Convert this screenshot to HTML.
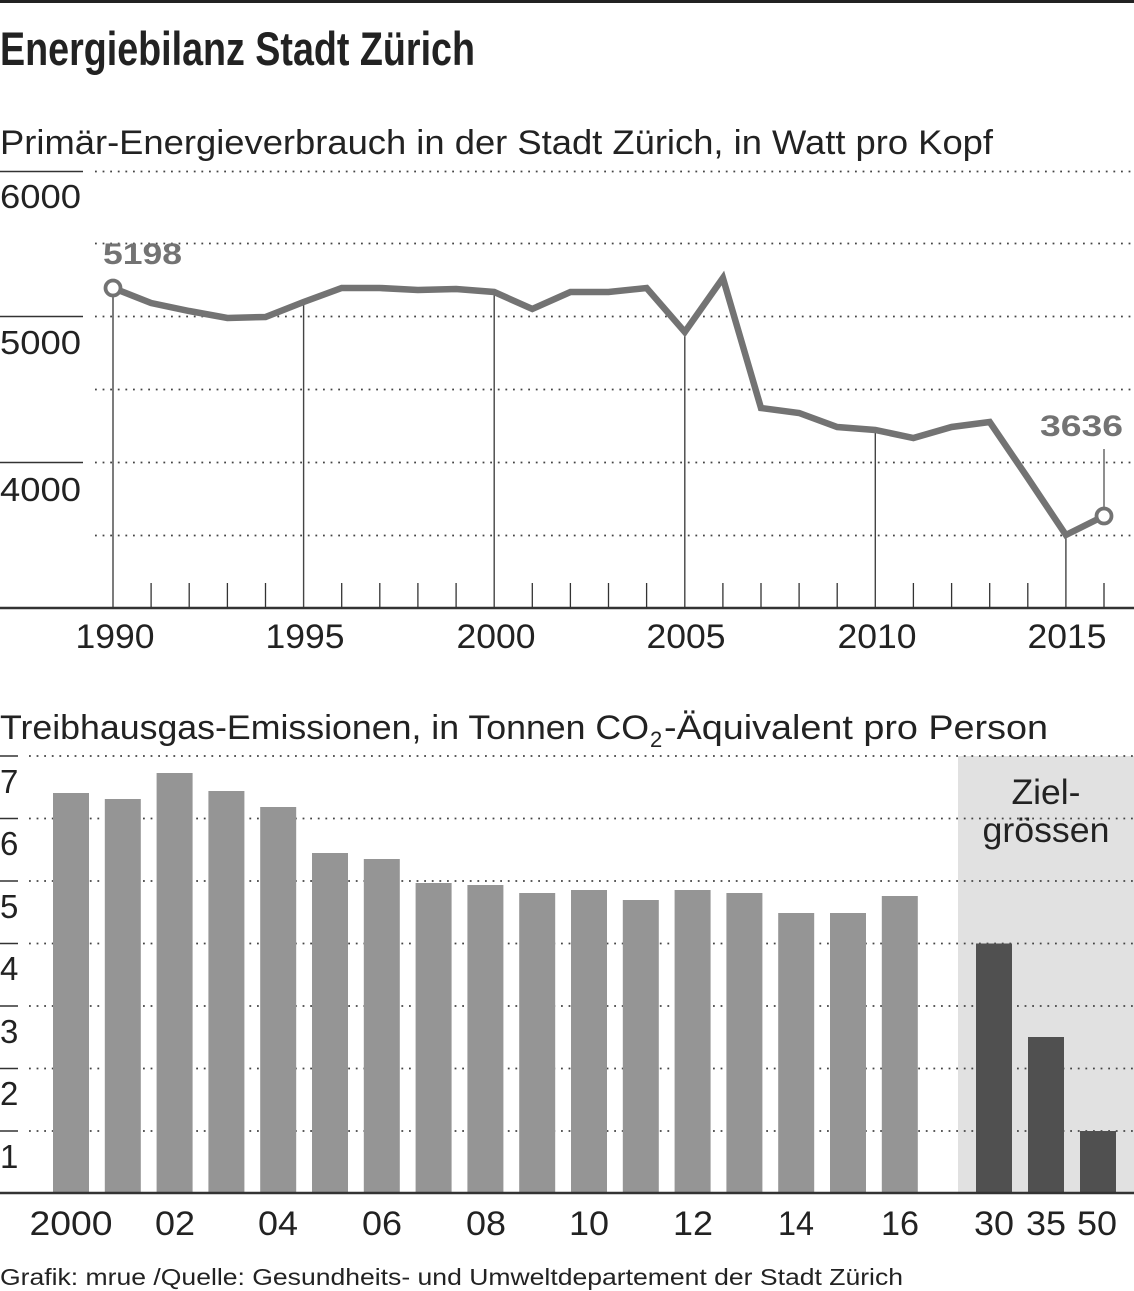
<!DOCTYPE html>
<html>
<head>
<meta charset="utf-8">
<style>
html,body{margin:0;padding:0;background:#fff;}
svg{display:block;}
text{font-family:"Liberation Sans",sans-serif;}
</style>
</head>
<body>
<svg width="1134" height="1291" viewBox="0 0 1134 1291" xmlns="http://www.w3.org/2000/svg">
<rect x="0" y="0" width="1134" height="1291" fill="#fff"/>
<rect x="0" y="0" width="1134" height="3" fill="#222"/>
<text x="0" y="65" font-size="47" font-weight="bold" fill="#222" textLength="475" lengthAdjust="spacingAndGlyphs" style="font-family:'Liberation Sans Narrow','Liberation Sans',sans-serif">Energiebilanz Stadt Zürich</text>

<text x="0" y="154" font-size="34" fill="#222" textLength="993" lengthAdjust="spacingAndGlyphs">Primär-Energieverbrauch in der Stadt Zürich, in Watt pro Kopf</text>

<g stroke="#444" stroke-width="1.8" stroke-dasharray="1.8 5.8" fill="none">
<line x1="95" y1="171.5" x2="1134" y2="171.5"/>
<line x1="95" y1="243.5" x2="1134" y2="243.5"/>
<line x1="95" y1="316.5" x2="1134" y2="316.5"/>
<line x1="95" y1="389.5" x2="1134" y2="389.5"/>
<line x1="95" y1="462.5" x2="1134" y2="462.5"/>
<line x1="95" y1="535.5" x2="1134" y2="535.5"/>
</g>
<g stroke="#333" stroke-width="1.5">
<line x1="0" y1="171.5" x2="83" y2="171.5"/>
<line x1="0" y1="316.5" x2="83" y2="316.5"/>
<line x1="0" y1="462.5" x2="83" y2="462.5"/>
</g>
<g font-size="33" fill="#222">
<text x="0" y="208" textLength="81" lengthAdjust="spacingAndGlyphs">6000</text>
<text x="0" y="354" textLength="81" lengthAdjust="spacingAndGlyphs">5000</text>
<text x="0" y="501" textLength="81" lengthAdjust="spacingAndGlyphs">4000</text>
</g>

<g stroke="#333" stroke-width="1.3">
<line x1="151.1" y1="583" x2="151.1" y2="608"/>
<line x1="189.2" y1="583" x2="189.2" y2="608"/>
<line x1="227.4" y1="583" x2="227.4" y2="608"/>
<line x1="265.5" y1="583" x2="265.5" y2="608"/>
<line x1="341.7" y1="583" x2="341.7" y2="608"/>
<line x1="379.8" y1="583" x2="379.8" y2="608"/>
<line x1="417.9" y1="583" x2="417.9" y2="608"/>
<line x1="456.1" y1="583" x2="456.1" y2="608"/>
<line x1="532.3" y1="583" x2="532.3" y2="608"/>
<line x1="570.4" y1="583" x2="570.4" y2="608"/>
<line x1="608.5" y1="583" x2="608.5" y2="608"/>
<line x1="646.6" y1="583" x2="646.6" y2="608"/>
<line x1="722.9" y1="583" x2="722.9" y2="608"/>
<line x1="761.0" y1="583" x2="761.0" y2="608"/>
<line x1="799.1" y1="583" x2="799.1" y2="608"/>
<line x1="837.2" y1="583" x2="837.2" y2="608"/>
<line x1="913.4" y1="583" x2="913.4" y2="608"/>
<line x1="951.6" y1="583" x2="951.6" y2="608"/>
<line x1="989.7" y1="583" x2="989.7" y2="608"/>
<line x1="1027.8" y1="583" x2="1027.8" y2="608"/>
<line x1="1104.0" y1="583" x2="1104.0" y2="608"/>
</g>
<g stroke="#444" stroke-width="1.4">
<line x1="113" y1="292" x2="113" y2="608"/>
<line x1="303.6" y1="302" x2="303.6" y2="608"/>
<line x1="494.2" y1="292" x2="494.2" y2="608"/>
<line x1="684.8" y1="332" x2="684.8" y2="608"/>
<line x1="875.3" y1="430" x2="875.3" y2="608"/>
<line x1="1065.9" y1="535" x2="1065.9" y2="608"/>
</g>
<line x1="0" y1="608" x2="1134" y2="608" stroke="#333" stroke-width="2.5"/>

<line x1="1104" y1="449" x2="1104" y2="509" stroke="#737373" stroke-width="1.6"/>

<polyline fill="none" stroke="#737373" stroke-width="6.5" stroke-linejoin="miter" stroke-miterlimit="4"
points="113,288 151.1,303 189.2,311 227.4,318 265.5,317 303.6,302 341.7,288 379.8,288 417.9,290 456.1,289 494.2,292 532.3,309 570.4,292 608.5,292 646.6,288 684.8,332 722.9,278 761.0,408 799.1,413 837.2,427 875.3,430 913.4,438 951.6,427 989.7,422 1027.8,478 1065.9,535 1104,516"/>
<circle cx="113" cy="288" r="7.5" fill="#fff" stroke="#737373" stroke-width="3.8"/>
<circle cx="1104" cy="516" r="7.5" fill="#fff" stroke="#737373" stroke-width="3.8"/>

<text x="103" y="264" font-size="30" font-weight="bold" fill="#737373" textLength="79" lengthAdjust="spacingAndGlyphs">5198</text>
<text x="1040" y="436" font-size="30" font-weight="bold" fill="#737373" textLength="83" lengthAdjust="spacingAndGlyphs">3636</text>

<g font-size="34" fill="#222" text-anchor="middle">
<text x="115" y="648" textLength="79" lengthAdjust="spacingAndGlyphs">1990</text>
<text x="305" y="648" textLength="79" lengthAdjust="spacingAndGlyphs">1995</text>
<text x="496" y="648" textLength="79" lengthAdjust="spacingAndGlyphs">2000</text>
<text x="686" y="648" textLength="79" lengthAdjust="spacingAndGlyphs">2005</text>
<text x="877" y="648" textLength="79" lengthAdjust="spacingAndGlyphs">2010</text>
<text x="1067" y="648" textLength="79" lengthAdjust="spacingAndGlyphs">2015</text>
</g>

<text x="0" y="739" font-size="34" fill="#222" textLength="649" lengthAdjust="spacingAndGlyphs">Treibhausgas-Emissionen, in Tonnen CO</text>
<text x="650" y="747" font-size="22" fill="#222">2</text>
<text x="664" y="739" font-size="34" fill="#222" textLength="384" lengthAdjust="spacingAndGlyphs">-Äquivalent pro Person</text>

<rect x="958" y="756" width="176" height="437" fill="#e1e1e1"/>

<g stroke="#444" stroke-width="1.8" stroke-dasharray="1.8 5.8" fill="none">
<line x1="29" y1="756" x2="1134" y2="756"/>
<line x1="29" y1="818.5" x2="1134" y2="818.5"/>
<line x1="29" y1="881" x2="1134" y2="881"/>
<line x1="29" y1="943.5" x2="1134" y2="943.5"/>
<line x1="29" y1="1006" x2="1134" y2="1006"/>
<line x1="29" y1="1068.5" x2="1134" y2="1068.5"/>
<line x1="29" y1="1131" x2="1134" y2="1131"/>
</g>
<g stroke="#333" stroke-width="1.5">
<line x1="0" y1="756" x2="18" y2="756"/>
<line x1="0" y1="818.5" x2="18" y2="818.5"/>
<line x1="0" y1="881" x2="18" y2="881"/>
<line x1="0" y1="943.5" x2="18" y2="943.5"/>
<line x1="0" y1="1006" x2="18" y2="1006"/>
<line x1="0" y1="1068.5" x2="18" y2="1068.5"/>
<line x1="0" y1="1131" x2="18" y2="1131"/>
</g>
<g font-size="33" fill="#222">
<text x="0" y="793">7</text>
<text x="0" y="855">6</text>
<text x="0" y="918">5</text>
<text x="0" y="980">4</text>
<text x="0" y="1043">3</text>
<text x="0" y="1105">2</text>
<text x="0" y="1168">1</text>
</g>

<g fill="#959595">
<rect x="53" y="793" width="36" height="400"/>
<rect x="104.8" y="799" width="36" height="394"/>
<rect x="156.6" y="773" width="36" height="420"/>
<rect x="208.4" y="791" width="36" height="402"/>
<rect x="260.2" y="807" width="36" height="386"/>
<rect x="312" y="853" width="36" height="340"/>
<rect x="363.8" y="859" width="36" height="334"/>
<rect x="415.6" y="883" width="36" height="310"/>
<rect x="467.4" y="885" width="36" height="308"/>
<rect x="519.2" y="893" width="36" height="300"/>
<rect x="571" y="890" width="36" height="303"/>
<rect x="622.8" y="900" width="36" height="293"/>
<rect x="674.6" y="890" width="36" height="303"/>
<rect x="726.4" y="893" width="36" height="300"/>
<rect x="778.2" y="913" width="36" height="280"/>
<rect x="830" y="913" width="36" height="280"/>
<rect x="881.8" y="896" width="36" height="297"/>
</g>
<g fill="#505050">
<rect x="976" y="943.5" width="36" height="249.5"/>
<rect x="1028" y="1037" width="36" height="156"/>
<rect x="1080" y="1131" width="36" height="62"/>
</g>

<line x1="0" y1="1193" x2="1134" y2="1193" stroke="#333" stroke-width="2.5"/>

<g font-size="35" fill="#222" text-anchor="middle">
<text x="1046" y="804" textLength="69" lengthAdjust="spacingAndGlyphs">Ziel-</text>
<text x="1046" y="842" textLength="127" lengthAdjust="spacingAndGlyphs">grössen</text>
</g>

<g font-size="34" fill="#222" text-anchor="middle">
<text x="71" y="1235" textLength="83" lengthAdjust="spacingAndGlyphs">2000</text>
<text x="175" y="1235" textLength="40" lengthAdjust="spacingAndGlyphs">02</text>
<text x="278" y="1235" textLength="40" lengthAdjust="spacingAndGlyphs">04</text>
<text x="382" y="1235" textLength="40" lengthAdjust="spacingAndGlyphs">06</text>
<text x="486" y="1235" textLength="40" lengthAdjust="spacingAndGlyphs">08</text>
<text x="589" y="1235" textLength="40" lengthAdjust="spacingAndGlyphs">10</text>
<text x="693" y="1235" textLength="40" lengthAdjust="spacingAndGlyphs">12</text>
<text x="796" y="1235" textLength="36" lengthAdjust="spacingAndGlyphs">14</text>
<text x="900" y="1235" textLength="38" lengthAdjust="spacingAndGlyphs">16</text>
<text x="994" y="1235" textLength="40" lengthAdjust="spacingAndGlyphs">30</text>
<text x="1046" y="1235" textLength="40" lengthAdjust="spacingAndGlyphs">35</text>
<text x="1097" y="1235" textLength="40" lengthAdjust="spacingAndGlyphs">50</text>
</g>

<text x="0" y="1285" font-size="23" fill="#222" textLength="903" lengthAdjust="spacingAndGlyphs">Grafik: mrue /Quelle: Gesundheits- und Umweltdepartement der Stadt Zürich</text>
</svg>
</body>
</html>
